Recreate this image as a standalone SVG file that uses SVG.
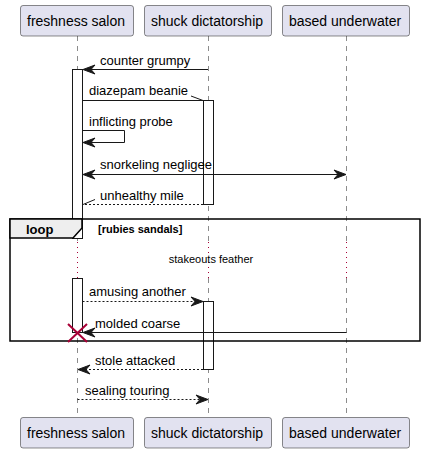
<svg xmlns="http://www.w3.org/2000/svg" width="425" height="453" viewBox="0 0 425 453">
<style>
.box{fill:#E2E2F0;stroke:#181818;stroke-width:0.5}
.pt{font-family:"Liberation Sans",Arial,sans-serif;font-size:14px;fill:#000}
.mt{font-family:"Liberation Sans",Arial,sans-serif;font-size:13px;fill:#000}
.life{stroke:#181818;stroke-width:0.5;stroke-dasharray:5,5;fill:none}
.dly{stroke:#A80036;stroke-width:1;stroke-dasharray:1,4;fill:none}
.act{fill:#FFFFFF;stroke:#181818;stroke-width:1}
.m{stroke:#181818;stroke-width:1;fill:none}
.d{stroke:#181818;stroke-width:1;fill:none;stroke-dasharray:2,2}
.ah{fill:#181818;stroke:#181818;stroke-width:1}
</style>
<defs>
<polygon id="al" points="0,0 12,-4.5 8,0 12,4.5"/>
<polygon id="ar" points="0,0 -12,-4.5 -8,0 -12,4.5"/>
</defs>
<g id="lifelines">
<line class="life" x1="77.5" y1="36" x2="77.5" y2="242"/>
<line class="dly" x1="77.5" y1="242" x2="77.5" y2="278"/>
<line class="life" x1="77.5" y1="278" x2="77.5" y2="417"/>
<line class="life" x1="208.5" y1="36" x2="208.5" y2="242"/>
<line class="dly" x1="208.5" y1="242" x2="208.5" y2="278"/>
<line class="life" x1="208.5" y1="278" x2="208.5" y2="417"/>
<line class="life" x1="346.5" y1="36" x2="346.5" y2="242"/>
<line class="dly" x1="346.5" y1="242" x2="346.5" y2="278"/>
<line class="life" x1="346.5" y1="278" x2="346.5" y2="417"/>
</g>
<g id="activations">
<rect class="act" x="72.5" y="69.5" width="10" height="169"/>
<rect class="act" x="72.5" y="278.5" width="10" height="54"/>
<rect class="act" x="203.5" y="100.5" width="10" height="104"/>
<rect class="act" x="203.5" y="301.5" width="10" height="68"/>
</g>
<g id="p1"><rect class="box" x="20.5" y="5.5" width="113" height="30.5" rx="2.5"/><text class="pt" x="27" y="26">freshness salon</text></g>
<g id="p2"><rect class="box" x="144.5" y="5.5" width="127" height="30.5" rx="2.5"/><text class="pt" x="151" y="26">shuck dictatorship</text></g>
<g id="p3"><rect class="box" x="282.5" y="5.5" width="127" height="30.5" rx="2.5"/><text class="pt" x="289" y="26">based underwater</text></g>
<g id="p1b"><rect class="box" x="20.5" y="417.5" width="113" height="30.5" rx="2.5"/><text class="pt" x="27" y="438">freshness salon</text></g>
<g id="p2b"><rect class="box" x="144.5" y="417.5" width="127" height="30.5" rx="2.5"/><text class="pt" x="151" y="438">shuck dictatorship</text></g>
<g id="p3b"><rect class="box" x="282.5" y="417.5" width="127" height="30.5" rx="2.5"/><text class="pt" x="289" y="438">based underwater</text></g>
<g id="loop">
<rect x="10" y="219" width="410" height="122" fill="none" stroke="#000" stroke-width="1.5"/>
<polygon points="10,219 82,219 82,228 73,238 10,238" fill="#EEEEEE" stroke="#000" stroke-width="1.5"/>
<text x="26" y="234" font-family="Liberation Sans,Arial,sans-serif" font-size="13" font-weight="bold">loop</text>
<text x="98" y="233" font-family="Liberation Sans,Arial,sans-serif" font-size="11" font-weight="bold">[rubies sandals]</text>
<text x="211" y="263" text-anchor="middle" font-family="Liberation Sans,Arial,sans-serif" font-size="11">stakeouts feather</text>
</g>
<g id="connectors">
<line class="m" x1="208" y1="69.5" x2="84" y2="69.5"/><use href="#al" x="83" y="69.5" class="ah"/>
<text class="mt" x="100" y="65">counter grumpy</text>
<line class="m" x1="82.5" y1="100.5" x2="203" y2="100.5"/><line class="m" x1="191" y1="96" x2="203" y2="100.5"/>
<text class="mt" x="89" y="95">diazepam beanie</text>
<polyline class="m" points="82.5,130.5 124.5,130.5 124.5,142.5 84,142.5"/><use href="#al" x="83" y="142.5" class="ah"/>
<text class="mt" x="89" y="126">inflicting probe</text>
<line class="m" x1="84" y1="174.5" x2="345" y2="174.5"/><use href="#al" x="83" y="174.5" class="ah"/><use href="#ar" x="346" y="174.5" class="ah"/>
<text class="mt" x="100" y="169">snorkeling negligee</text>
<line class="d" x1="203" y1="204.5" x2="83" y2="204.5"/><line class="m" x1="83" y1="204.5" x2="95" y2="199.5"/>
<text class="mt" x="100" y="200">unhealthy mile</text>
<line class="d" x1="82.5" y1="301.5" x2="201" y2="301.5"/><use href="#ar" x="203" y="301.5" class="ah"/>
<text class="mt" x="89" y="296">amusing another</text>
<line class="m" x1="346.5" y1="332.5" x2="84" y2="332.5"/><use href="#al" x="83" y="332.5" class="ah"/>
<text class="mt" x="95" y="328">molded coarse</text>
<line class="d" x1="203" y1="369.5" x2="80" y2="369.5"/><use href="#al" x="78" y="369.5" class="ah"/>
<text class="mt" x="95" y="365">stole attacked</text>
<line class="d" x1="77.5" y1="399.5" x2="206" y2="399.5"/><use href="#ar" x="208" y="399.5" class="ah"/>
<text class="mt" x="85" y="395">sealing touring</text>
</g>
<g id="destroy" stroke="#A80036" stroke-width="2">
<line x1="68" y1="324" x2="87" y2="342"/><line x1="87" y1="324" x2="68" y2="342"/>
</g>
</svg>
